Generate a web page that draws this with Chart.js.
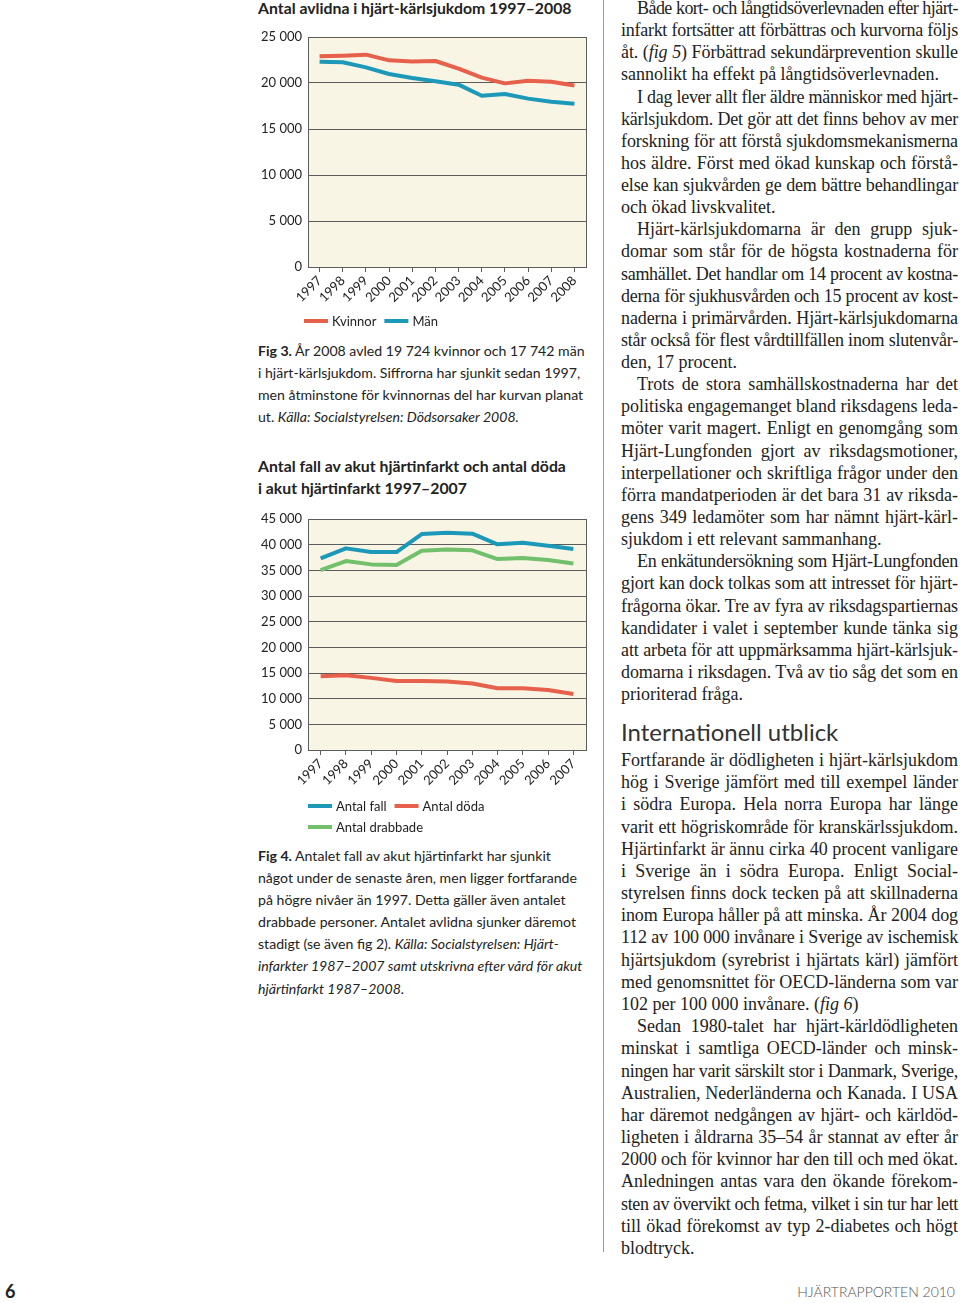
<!DOCTYPE html>
<html lang="sv">
<head>
<meta charset="utf-8">
<script src="https://cdn.jsdelivr.net/npm/chart.js@4/dist/chart.umd.min.js"></script>
<style>
  html, body { margin: 0; padding: 0; background: #fff; }
  body { width: 960px; height: 1303px; position: relative; overflow: hidden; color: #222; }
  .ln { position: absolute; white-space: nowrap; }
  .sans { font-family: Lato, "Open Sans", sans-serif; }
  .cap { font-size: 14.1px; line-height: 22px; height: 22px; left: 258px; }
  .ttl { font-size: 15.8px; font-weight: 700; line-height: 22px; height: 22px; left: 258px; }
  .serif { font-family: "Liberation Serif", serif; font-size: 18px; line-height: 22px; height: 22px; left: 621px; width: 337px; }
  .just { text-align: justify; text-align-last: justify; }
  .ind { left: 637px; width: 321px; }
  canvas { position: absolute; }
  #rule { position: absolute; left: 603px; top: 0; width: 1px; height: 1252px; background: #9a9a9a; }
</style>
</head>
<body>
<div class="ln sans ttl" style="top:-3px">Antal avlidna i hjärt-kärlsjukdom 1997–2008</div>
<canvas id="chartDeaths" width="345" height="315" style="left:250px;top:20px"></canvas>

<div class="ln sans cap" style="top:340px"><b>Fig 3.</b> År 2008 avled 19 724 kvinnor och 17 742 män</div>
<div class="ln sans cap" style="top:362px">i hjärt-kärlsjukdom. Siffrorna har sjunkit sedan 1997,</div>
<div class="ln sans cap" style="top:384px">men åtminstone för kvinnornas del har kurvan planat</div>
<div class="ln sans cap" style="top:406px">ut. <i>Källa: Socialstyrelsen: Dödsorsaker 2008.</i></div>

<div class="ln sans ttl" style="top:455px">Antal fall av akut hjärtinfarkt och antal döda</div>
<div class="ln sans ttl" style="top:477px">i akut hjärtinfarkt 1997–2007</div>
<canvas id="chartInfarct" width="345" height="335" style="left:250px;top:505px"></canvas>

<div class="ln sans cap" style="top:845px"><b>Fig 4.</b> Antalet fall av akut hjärtinfarkt har sjunkit</div>
<div class="ln sans cap" style="top:867px">något under de senaste åren, men ligger fortfarande</div>
<div class="ln sans cap" style="top:889px">på högre nivåer än 1997. Detta gäller även antalet</div>
<div class="ln sans cap" style="top:911px">drabbade personer. Antalet avlidna sjunker däremot</div>
<div class="ln sans cap" style="top:933px">stadigt (se även fig 2). <i>Källa: Socialstyrelsen: Hjärt-</i></div>
<div class="ln sans cap" style="top:955px"><i>infarkter 1987–2007 samt utskrivna efter vård för akut</i></div>
<div class="ln sans cap" style="top:978px"><i>hjärtinfarkt 1987–2008.</i></div>

<div id="rule"></div>
<div id="textCol"></div>
<div class="ln sans" style="left:621px;top:716px;font-size:24px;line-height:32px;color:#333">Internationell utblick</div>

<div class="ln sans" style="left:5px;top:1280px;font-size:18px;font-weight:700;line-height:22px">6</div>
<div class="ln sans" style="right:5px;top:1282px;font-size:14px;line-height:20px;color:#555;font-weight:300">HJÄRTRAPPORTEN 2010</div>

<script>
// Fig 3 - avlidna i hjärt-kärlsjukdom
const years3 = ['1997', '1998', '1999', '2000', '2001', '2002', '2003', '2004', '2005', '2006', '2007', '2008'];
const kvinnor = [22900, 22970, 23080, 22460, 22350, 22390, 21560, 20580, 19960, 20250, 20140, 19724];
const man = [22320, 22250, 21700, 20980, 20540, 20180, 19820, 18620, 18800, 18300, 17970, 17742];
const yTicks3 = [0, 5000, 10000, 15000, 20000, 25000];

// Fig 4 - akut hjärtinfarkt
const years4 = ['1997', '1998', '1999', '2000', '2001', '2002', '2003', '2004', '2005', '2006', '2007'];
const antalFall = [37330, 39280, 38560, 38560, 42070, 42330, 42140, 40060, 40380, 39800, 39150];
const antalDoda = [14370, 14570, 14050, 13460, 13460, 13330, 12940, 12030, 12030, 11700, 10920];
const antalDrabbade = [35050, 36810, 36160, 36030, 38820, 39080, 38890, 37200, 37390, 37000, 36350];
const yTicks4 = [0, 5000, 10000, 15000, 20000, 25000, 30000, 35000, 40000, 45000];

const RED = '#e6604b';
const BLUE = '#1c98b8';
const GREEN = '#72bf6c';
const GRID = '#5c5c5c';
const FONT = 'Lato, "Open Sans", sans-serif';

function fmt(v) {
    return String(v).replace(/\B(?=(\d{3})+(?!\d))/g, ' ');
}

// cream plot background, right edge and a line-sample legend under the axis
const plotPanel = {
    id: 'plotPanel',
    beforeDraw(chart) {
        const a = chart.chartArea, ctx = chart.ctx;
        ctx.save();
        ctx.fillStyle = '#f8f5e5';
        ctx.fillRect(a.left, a.top, a.right - a.left, a.bottom - a.top);
        ctx.restore();
    },
    afterDraw(chart, args, opts) {
        const a = chart.chartArea, ctx = chart.ctx;
        ctx.save();
        ctx.strokeStyle = GRID;
        ctx.lineWidth = 1;
        ctx.beginPath();
        ctx.moveTo(Math.round(a.right) + 0.5, a.top);
        ctx.lineTo(Math.round(a.right) + 0.5, a.bottom);
        ctx.stroke();
        ctx.font = '13px ' + FONT;
        ctx.textBaseline = 'middle';
        opts.rows.forEach(function (row, r) {
            let x = a.left + (opts.dx || 0);
            let y = a.bottom + opts.top + r * opts.gap;
            row.forEach(function (i) {
                let ds = chart.data.datasets[i];
                ctx.strokeStyle = ds.borderColor;
                ctx.lineWidth = 4;
                ctx.beginPath();
                ctx.moveTo(x, y);
                ctx.lineTo(x + 24, y);
                ctx.stroke();
                ctx.fillStyle = '#222';
                ctx.fillText(ds.label, x + 28, y + 1);
                x += 28 + ctx.measureText(ds.label).width + 8;
            });
        });
        ctx.restore();
    }
};

function lineSet(label, data, color) {
    return {
        label: label,
        data: data,
        borderColor: color,
        backgroundColor: color,
        borderWidth: 4,
        pointRadius: 0,
        tension: 0,
        borderJoinStyle: 'round',
        borderCapStyle: 'butt'
    };
}

function makeOptions(tickValues, maxV, padding, legend) {
    return {
        responsive: false,
        animation: false,
        layout: { padding: padding },
        plugins: {
            legend: { display: false },
            tooltip: { enabled: false },
            plotPanel: legend
        },
        scales: {
            x: {
                offset: true,
                afterFit: function (s) { s.height = 38; },
                grid: { display: true, drawOnChartArea: false, drawTicks: true, tickLength: 5, color: GRID },
                border: { display: true, color: GRID },
                ticks: {
                    autoSkip: false, minRotation: 45, maxRotation: 45, padding: 1,
                    color: '#222', font: { family: FONT, size: 13 }
                }
            },
            y: {
                min: 0,
                max: maxV,
                afterFit: function (s) { s.width = 58; },
                afterBuildTicks: function (s) { s.ticks = tickValues.map(function (v) { return { value: v }; }); },
                grid: { color: GRID, lineWidth: 1, drawTicks: false },
                border: { display: true, color: GRID },
                ticks: {
                    padding: 6, color: '#222', font: { family: FONT, size: 13 },
                    callback: function (v) { return fmt(v); }
                }
            }
        }
    };
}

new Chart(document.getElementById('chartDeaths').getContext('2d'), {
    type: 'line',
    data: {
        labels: years3,
        datasets: [lineSet('Kvinnor', kvinnor, RED), lineSet('Män', man, BLUE)]
    },
    options: makeOptions(yTicks3, 25000, { top: 17, right: 9, bottom: 30, left: 0 },
        { rows: [[0, 1]], top: 54, gap: 21, dx: -4 }),
    plugins: [plotPanel]
});

new Chart(document.getElementById('chartInfarct').getContext('2d'), {
    type: 'line',
    data: {
        labels: years4,
        datasets: [
            lineSet('Antal fall', antalFall, BLUE),
            lineSet('Antal döda', antalDoda, RED),
            lineSet('Antal drabbade', antalDrabbade, GREEN)
        ]
    },
    options: makeOptions(yTicks4, 45000, { top: 14, right: 9, bottom: 52, left: 0 },
        { rows: [[0, 1], [2]], top: 56, gap: 21, dx: 0 }),
    plugins: [plotPanel]
});

// right-hand body text, one entry per printed line: [text, indent, justified]
const bodyLines = [
    ['Både kort- och långtidsöverlevnaden efter hjärt-', 1, 1],
    ['infarkt fortsätter att förbättras och kurvorna följs', 0, 1],
    ['åt. (<i>fig 5</i>) Förbättrad sekundärprevention skulle', 0, 1],
    ['sannolikt ha effekt på långtidsöverlevnaden.', 0, 0],
    ['I dag lever allt fler äldre människor med hjärt-', 1, 1],
    ['kärlsjukdom. Det gör att det finns behov av mer', 0, 1],
    ['forskning för att förstå sjukdomsmekanismerna', 0, 1],
    ['hos äldre. Först med ökad kunskap och förstå-', 0, 1],
    ['else kan sjukvården ge dem bättre behandlingar', 0, 1],
    ['och ökad livskvalitet.', 0, 0],
    ['Hjärt-kärlsjukdomarna är den grupp sjuk-', 1, 1],
    ['domar som står för de högsta kostnaderna för', 0, 1],
    ['samhället. Det handlar om 14 procent av kostna-', 0, 1],
    ['derna för sjukhusvården och 15 procent av kost-', 0, 1],
    ['naderna i primärvården. Hjärt-kärlsjukdomarna', 0, 1],
    ['står också för flest vårdtillfällen inom slutenvår-', 0, 1],
    ['den, 17 procent.', 0, 0],
    ['Trots de stora samhällskostnaderna har det', 1, 1],
    ['politiska engagemanget bland riksdagens leda-', 0, 1],
    ['möter varit magert. Enligt en genomgång som', 0, 1],
    ['Hjärt-Lungfonden gjort av riksdagsmotioner,', 0, 1],
    ['interpellationer och skriftliga frågor under den', 0, 1],
    ['förra mandatperioden är det bara 31 av riksda-', 0, 1],
    ['gens 349 ledamöter som har nämnt hjärt-kärl-', 0, 1],
    ['sjukdom i ett relevant sammanhang.', 0, 0],
    ['En enkätundersökning som Hjärt-Lungfonden', 1, 1],
    ['gjort kan dock tolkas som att intresset för hjärt-', 0, 1],
    ['frågorna ökar. Tre av fyra av riksdagspartiernas', 0, 1],
    ['kandidater i valet i september kunde tänka sig', 0, 1],
    ['att arbeta för att uppmärksamma hjärt-kärlsjuk-', 0, 1],
    ['domarna i riksdagen. Två av tio såg det som en', 0, 1],
    ['prioriterad fråga.', 0, 0]
];
const bodyLines2 = [
    ['Fortfarande är dödligheten i hjärt-kärlsjukdom', 0, 1],
    ['hög i Sverige jämfört med till exempel länder', 0, 1],
    ['i södra Europa. Hela norra Europa har länge', 0, 1],
    ['varit ett högriskområde för kranskärlssjukdom.', 0, 1],
    ['Hjärtinfarkt är ännu cirka 40 procent vanligare', 0, 1],
    ['i Sverige än i södra Europa. Enligt Social-', 0, 1],
    ['styrelsen finns dock tecken på att skillnaderna', 0, 1],
    ['inom Europa håller på att minska. År 2004 dog', 0, 1],
    ['112 av 100 000 invånare i Sverige av ischemisk', 0, 1],
    ['hjärtsjukdom (syrebrist i hjärtats kärl) jämfört', 0, 1],
    ['med genomsnittet för OECD-länderna som var', 0, 1],
    ['102 per 100 000 invånare. (<i>fig 6</i>)', 0, 0],
    ['Sedan 1980-talet har hjärt-kärldödligheten', 1, 1],
    ['minskat i samtliga OECD-länder och minsk-', 0, 1],
    ['ningen har varit särskilt stor i Danmark, Sverige,', 0, 1],
    ['Australien, Nederländerna och Kanada. I USA', 0, 1],
    ['har däremot nedgången av hjärt- och kärldöd-', 0, 1],
    ['ligheten i åldrarna 35–54 år stannat av efter år', 0, 1],
    ['2000 och för kvinnor har den till och med ökat.', 0, 1],
    ['Anledningen antas vara den ökande förekom-', 0, 1],
    ['sten av övervikt och fetma, vilket i sin tur har lett', 0, 1],
    ['till ökad förekomst av typ 2-diabetes och högt', 0, 1],
    ['blodtryck.', 0, 0]
];

function placeLines(lines, firstCenter, step) {
    let col = document.getElementById('textCol');
    lines.forEach(function (l, i) {
        let d = document.createElement('div');
        d.className = 'ln serif' + (l[1] ? ' ind' : '') + (l[2] ? ' just' : '');
        d.style.top = (firstCenter + i * step - 11) + 'px';
        d.innerHTML = '<span>' + l[0] + '</span>';
        col.appendChild(d);
        let w = d.firstChild.getBoundingClientRect().width;
        let target = l[1] ? 321 : 337;
        if (w > target) {
            d.style.letterSpacing = ((target - w) / d.textContent.length - 0.02) + 'px';
        }
    });
}
placeLines(bodyLines, 8, 22.13);
placeLines(bodyLines2, 760, 22.18);
</script>
</body>
</html>
